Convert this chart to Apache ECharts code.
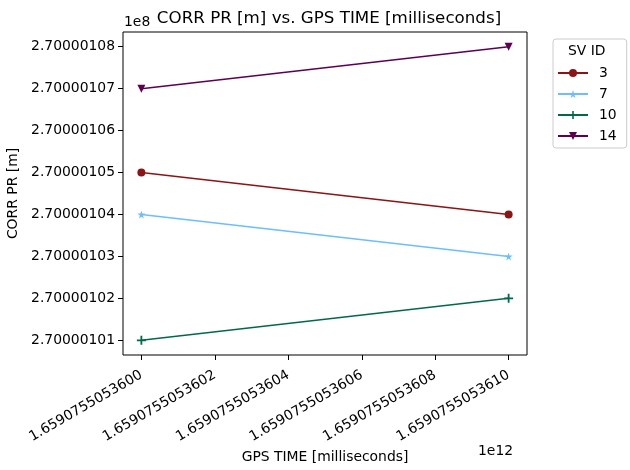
<!DOCTYPE html>
<html>
<head>
<meta charset="utf-8">
<script src="https://cdn.jsdelivr.net/npm/echarts@6/dist/echarts.min.js"></script>
<style>
  html, body { margin: 0; padding: 0; background: #fff; }
  #main { width: 630px; height: 470px; }
</style>
</head>
<body>
<div id="main"></div>
<script>
// GPS time in milliseconds
const gpsTime = [1659075505360, 1659075505361];

const svIds = ['3', '7', '10', '14'];
const corrPr = {
  '3': [270000105, 270000104],
  '7': [270000104, 270000103],
  '10': [270000101, 270000102],
  '14': [270000107, 270000108]
};
const svColors = ['#8b1414', '#6cbffa', '#00694a', '#5c0052'];

const xTickValues = [1659075505360, 1659075505360.2, 1659075505360.4, 1659075505360.6, 1659075505360.8, 1659075505361];
const xTickLabels = ['1.6590755053600', '1.6590755053602', '1.6590755053604', '1.6590755053606', '1.6590755053608', '1.6590755053610'];
const yTickValues = [270000101, 270000102, 270000103, 270000104, 270000105, 270000106, 270000107, 270000108];
const yTickLabels = ['2.70000101', '2.70000102', '2.70000103', '2.70000104', '2.70000105', '2.70000106', '2.70000107', '2.70000108'];

const STAR = 'path://M50,0 L61,35 L98,35 L68,57 L79,91 L50,70 L21,91 L32,57 L2,35 L39,35 Z';
const PLUS = 'path://M4,0 L6,0 L6,4 L10,4 L10,6 L6,6 L6,10 L4,10 L4,6 L0,6 L0,4 L4,4 Z';
const markers = [
  { symbol: 'circle', size: 8, rotate: 0 },
  { symbol: STAR, size: 8, rotate: 0 },
  { symbol: PLUS, size: 9, rotate: 0 },
  { symbol: 'triangle', size: 8, rotate: 180 }
];

const chart = echarts.init(document.getElementById('main'), null, { renderer: 'canvas' });
const font = 'DejaVu Sans';
const fs = 13.9;

const nearestLabel = (vals, labels) => v => {
  let best = 0;
  for (let i = 1; i < vals.length; i++) {
    if (Math.abs(vals[i] - v) < Math.abs(vals[best] - v)) best = i;
  }
  return labels[best];
};

const option = {
  animation: false,
  textStyle: { fontFamily: font },
  title: {
    text: 'CORR PR [m] vs. GPS TIME [milliseconds]',
    left: 324, top: 5, textAlign: 'center',
    textStyle: { fontFamily: font, fontSize: 16.7, fontWeight: 'normal', color: '#000' }
  },
  grid: {
    left: 123, right: 103, top: 32, bottom: 115,
    show: true, borderColor: '#000', borderWidth: 1,
    outerBoundsMode: 'none'
  },
  legend: {
    orient: 'vertical',
    left: 553, top: 39,
    width: 68,
    padding: [27, 10, 5, 4],
    itemGap: 7,
    itemWidth: 30, itemHeight: 10,
    borderColor: '#ccc', borderWidth: 1, borderRadius: 3,
    textStyle: { fontFamily: font, fontSize: fs, color: '#000', padding: [0, 0, 0, 6] },
    data: svIds
  },
  xAxis: {
    type: 'value',
    min: gpsTime[0] - 0.05,
    max: gpsTime[1] + 0.05,
    name: 'GPS TIME [milliseconds]',
    nameLocation: 'middle',
    nameGap: 84,
    nameTextStyle: { fontFamily: font, fontSize: fs, color: '#000' },
    splitLine: { show: false },
    axisLine: { show: false },
    axisTick: { show: true, length: 5, customValues: xTickValues, lineStyle: { color: '#000' } },
    axisLabel: {
      customValues: xTickValues,
      rotate: 30,
      margin: 19,
      fontFamily: font, fontSize: fs, color: '#000',
      formatter: nearestLabel(xTickValues, xTickLabels)
    }
  },
  yAxis: {
    type: 'value',
    min: 270000100.65,
    max: 270000108.35,
    name: 'CORR PR [m]',
    nameLocation: 'middle',
    nameGap: 95,
    nameTextStyle: { fontFamily: font, fontSize: fs, color: '#000' },
    splitLine: { show: false },
    axisLine: { show: false },
    axisTick: { show: true, length: 5, customValues: yTickValues, lineStyle: { color: '#000' } },
    axisLabel: {
      customValues: yTickValues,
      margin: 8,
      fontFamily: font, fontSize: fs, color: '#000',
      formatter: nearestLabel(yTickValues, yTickLabels)
    }
  },
  graphic: [
    { type: 'text', left: 568, top: 44, style: { text: 'SV ID', font: '13.9px "DejaVu Sans"', fill: '#000' } },
    { type: 'text', left: 124, top: 15, style: { text: '1e8', font: '13.9px "DejaVu Sans"', fill: '#000' } },
    { type: 'text', left: 478, top: 444, style: { text: '1e12', font: '13.9px "DejaVu Sans"', fill: '#000' } }
  ],
  series: svIds.map((id, i) => ({
    name: id,
    type: 'line',
    data: gpsTime.map((t, k) => [t, corrPr[id][k]]),
    color: svColors[i],
    symbol: markers[i].symbol,
    symbolSize: markers[i].size,
    symbolRotate: markers[i].rotate,
    showAllSymbol: true,
    lineStyle: { width: 1.5, color: svColors[i] },
    itemStyle: { color: svColors[i], borderWidth: 0 }
  }))
};

chart.setOption(option);
</script>
</body>
</html>
